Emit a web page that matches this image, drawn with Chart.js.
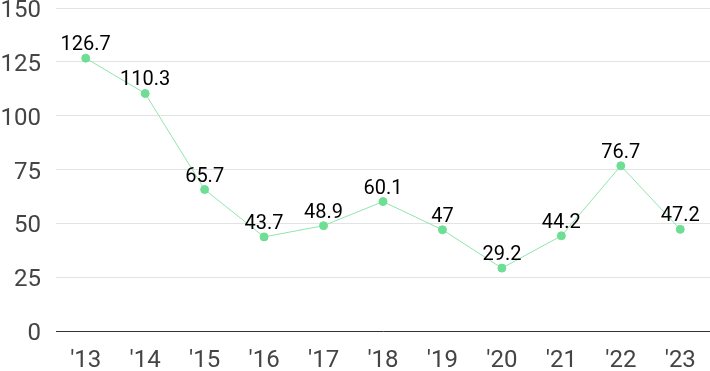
<!DOCTYPE html>
<html>
<head>
<meta charset="utf-8">
<script src="https://cdn.jsdelivr.net/npm/chart.js@4"></script>
<style>
  html, body { margin: 0; padding: 0; background: #fff; }
  #wrap { width: 710px; height: 371px; }
</style>
</head>
<body>
<div id="wrap"><canvas id="myChart"></canvas></div>
<script>
const years = ["'13", "'14", "'15", "'16", "'17", "'18", "'19", "'20", "'21", "'22", "'23"];
const values = [126.7, 110.3, 65.7, 43.7, 48.9, 60.1, 47, 29.2, 44.2, 76.7, 47.2];
const yTicks = [0, 25, 50, 75, 100, 125, 150];

// labels drawn above each point
const pointLabels = {
  id: "pointLabels",
  afterDatasetsDraw(chart) {
    const ctx = chart.ctx;
    const meta = chart.getDatasetMeta(0);
    ctx.save();
    ctx.font = "20px Roboto";
    ctx.fillStyle = "#000";
    ctx.textAlign = "center";
    ctx.textBaseline = "alphabetic";
    meta.data.forEach((pt, i) => {
      ctx.fillText(String(values[i]), pt.x, pt.y - 8);
    });
    ctx.restore();
  },
};

const ctx = document.getElementById("myChart").getContext("2d");
new Chart(ctx, {
  type: "line",
  data: {
    labels: years,
    datasets: [
      {
        data: values,
        borderColor: "#8ee6ac",
        borderWidth: 1,
        pointBackgroundColor: "#6dde93",
        pointBorderColor: "#6dde93",
        pointRadius: 4,
        tension: 0,
      },
    ],
  },
  options: {
    responsive: true,
    maintainAspectRatio: false,
    animation: false,
    layout: { padding: { top: 8, right: 0, left: 0, bottom: 0 }, autoPadding: false },
    plugins: { legend: { display: false }, tooltip: { enabled: false } },
    scales: {
      x: {
        offset: true,
        grid: { display: false, drawTicks: false },
        border: { color: "#333", width: 1 },
        ticks: { font: { size: 24, family: "Roboto", lineHeight: 1 }, color: "#444", padding: 18 },
        afterFit: (axis) => {
          axis.height = 40;
          axis.paddingLeft = 0;
          axis.paddingRight = 0;
        },
      },
      y: {
        min: 0,
        max: 150,
        afterBuildTicks: (axis) => { axis.ticks = yTicks.map((v) => ({ value: v })); },
        grid: { color: "#e3e3e3", drawTicks: false },
        border: { display: false },
        ticks: { font: { size: 24, family: "Roboto" }, color: "#444", padding: 15, labelOffset: 3 },
        afterFit: (axis) => {
          axis.width = 56;
          axis.paddingTop = 0;
          axis.paddingBottom = 0;
        },
      },
    },
  },
  plugins: [pointLabels],
});
</script>
</body>
</html>
